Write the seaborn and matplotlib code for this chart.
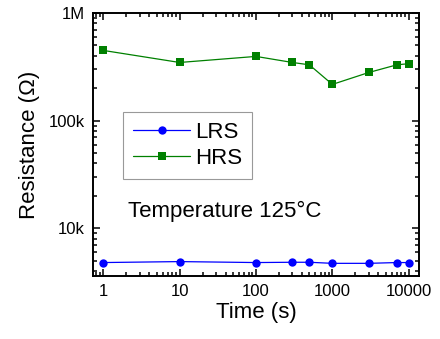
import matplotlib
matplotlib.use("Agg")
import matplotlib.pyplot as plt
import matplotlib.ticker as mticker
import numpy as np
import pandas as pd
import seaborn as sns

# Retention data at 125 °C
time_s = [1, 10, 100, 300, 500, 1000, 3000, 7000, 10000]
lrs_ohm = [4800, 4900, 4800, 4830, 4830, 4720, 4720, 4800, 4800]
hrs_ohm = [449000, 347000, 395000, 347000, 330000, 217000, 280000, 330000, 338000]

x_ticks = [1, 10, 100, 1000, 10000]
x_tick_labels = ["1", "10", "100", "1000", "10000"]
y_ticks = [1e4, 1e5, 1e6]
y_tick_labels = ["10k", "100k", "1M"]

sns.set_style("ticks")
plt.rcParams["font.family"] = ["Liberation Sans", "DejaVu Sans"]
plt.rcParams["text.color"] = "black"
plt.rcParams["axes.labelcolor"] = "black"

df_lrs = pd.DataFrame({"Time": time_s, "R": lrs_ohm})
df_hrs = pd.DataFrame({"Time": time_s, "R": hrs_ohm})

fig = plt.figure(figsize=(4.4, 3.39), dpi=100)
ax = fig.add_axes([93 / 440, 1 - 276 / 339, (419 - 93) / 440, (276 - 13) / 339])

sns.lineplot(data=df_lrs, x="Time", y="R", ax=ax, color="#0000FF", marker="o",
             markersize=6, markeredgewidth=0, linewidth=0.9, label="LRS")
sns.lineplot(data=df_hrs, x="Time", y="R", ax=ax, color="#008000", marker="s",
             markersize=5.2, markeredgewidth=0, linewidth=0.9, label="HRS")

ax.set_xscale("log")
ax.set_yscale("log")
ax.set_xlim(0.733, 13650)
ax.set_ylim(3600, 1e6)

ax.xaxis.set_major_locator(mticker.FixedLocator(x_ticks))
ax.xaxis.set_major_formatter(mticker.FixedFormatter(x_tick_labels))
ax.xaxis.set_minor_locator(mticker.LogLocator(base=10, subs=np.arange(2, 10)))
ax.xaxis.set_minor_formatter(mticker.NullFormatter())
ax.yaxis.set_major_locator(mticker.FixedLocator(y_ticks))
ax.yaxis.set_major_formatter(mticker.FixedFormatter(y_tick_labels))
ax.yaxis.set_minor_locator(mticker.LogLocator(base=10, subs=np.arange(2, 10)))
ax.yaxis.set_minor_formatter(mticker.NullFormatter())

ax.tick_params(which="both", direction="in", top=True, right=True, colors="black",
               labelcolor="black", labelsize=12, width=1.1)
ax.tick_params(which="major", length=5, pad=6)
ax.tick_params(which="minor", length=3)
for s in ax.spines.values():
    s.set_linewidth(1.4)
    s.set_color("black")

ax.set_xlabel("Time (s)", fontsize=16, labelpad=2, color="black")
ax.set_ylabel("Resistance (\u03a9)", fontsize=16, labelpad=6, color="black")

ax.text(0.108, 0.224, "Temperature 125\u00b0C", transform=ax.transAxes,
        fontsize=16, ha="left", va="baseline", color="black")

leg = ax.legend(loc="upper left", bbox_to_anchor=(0.091, 0.625), fontsize=16,
                frameon=True, fancybox=False, edgecolor="#808080",
                handlelength=2.6, handletextpad=0.2, borderpad=0.45,
                labelspacing=0.25, borderaxespad=0)
leg.get_frame().set_linewidth(0.8)
for t in leg.get_texts():
    t.set_color("black")

fig.savefig("out.png", dpi=100)
